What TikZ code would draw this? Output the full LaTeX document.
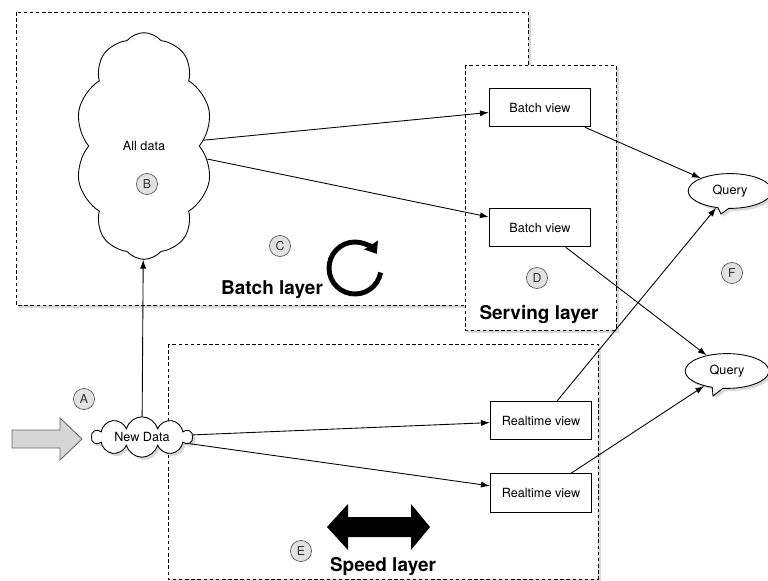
\documentclass[tikz,border=0pt]{standalone}
\usepackage{fontspec}
\setmainfont{TeX Gyre Heros}
\usetikzlibrary{arrows.meta,shapes.symbols,shapes.callouts,shadows}
\definecolor{tagFill}{HTML}{E2E2E2}
\definecolor{tagLine}{HTML}{5A5A5A}
\definecolor{inputGrey}{HTML}{D6D6D6}

\begin{document}
\begin{tikzpicture}[x=0.02cm,y=-0.02cm,
    font=\fontsize{7.2}{8.6}\selectfont,
    softshadow/.style={drop shadow={shadow xshift=1.5pt,shadow yshift=-1.5pt,opacity=0.3}},
    layer/.style={draw,dash pattern=on 2pt off 1.5pt,fill=white,line width=0.5pt,softshadow},
    layername/.style={font=\fontsize{10.8}{13}\selectfont\bfseries},
    view/.style={draw,fill=white,line width=0.5pt,minimum width=57.8pt,
                 minimum height=22pt,inner sep=0pt},
    datacloud/.style={cloud,draw,fill=white,cloud ignores aspect,
                      inner sep=0pt,line width=0.5pt},
    query/.style={ellipse callout,draw,fill=white,line width=0.5pt,minimum width=47.6pt,
                  minimum height=19.8pt,inner sep=0pt,softshadow},
    tag/.style={circle,draw=tagLine,fill=tagFill,text=black!80,minimum size=12pt,
                inner sep=0pt,font=\fontsize{7}{8}\selectfont},
    flow/.style={-{Latex[length=5pt,width=3.5pt]},line width=0.5pt}]
    \useasboundingbox (0,0) rectangle (768,581);

    % layers
    \draw[layer] (16,12) rectangle (528,305);
    \draw[layer] (465,65) rectangle (616,330);
    \draw[layer] (168,344) rectangle (598,579);
    \node[layername] (batchname) at (272,290) {Batch layer};
    \node[layername] (servingname) at (539,315) {Serving layer};
    \node[layername] (speedname) at (383,567) {Speed layer};

    % data
    \node[datacloud,cloud puffs=10,cloud puff arc=100,minimum width=78pt,minimum height=129pt]
        (alldata) at (144,146) {All data};
    \node[datacloud,softshadow,cloud puffs=10,minimum width=57pt,minimum height=23pt]
        (newdata) at (142,437) {New Data};

    % views
    \node[view] (bv1) at (540,107.5) {Batch view};
    \node[view] (bv2) at (540,227.5) {Batch view};
    \node[view] (rv1) at (541,420.5) {Realtime view};
    \node[view] (rv2) at (541,493) {Realtime view};

    % queries
    \node[query,callout absolute pointer={(721,214)}] (q1) at (730,191) {Query};
    \node[query,callout absolute pointer={(713,396)}] (q2) at (727,371) {Query};

    % tags
    \node[tag] (tagA) at (84,399) {A};
    \node[tag] (tagB) at (147,184) {B};
    \node[tag] (tagC) at (280,246) {C};
    \node[tag] (tagD) at (537,278) {D};
    \node[tag] (tagE) at (301,551) {E};
    \node[tag] (tagF) at (732,273) {F};

    % symbols
    \filldraw[draw=black!60,fill=inputGrey,line width=0.5pt]
        (12,430) -- (60,430) -- (60,418) -- (82,439) -- (60,460) -- (60,448) -- (12,448) -- cycle;
    \fill (327,527) -- (348,504) -- (348,517) -- (411,517) -- (411,504) -- (430,527)
        -- (411,550) -- (411,537) -- (348,537) -- (348,550) -- cycle;
    \draw[line width=2.8pt,-{Triangle[length=6pt,width=9pt]}]
        (355,268) ++(10:26) arc[start angle=10,end angle=327,radius=26];

    % flows
    \draw[flow] (newdata) -- (alldata);
    \draw[flow] (alldata) -- (bv1);
    \draw[flow] (alldata) -- (bv2);
    \draw[flow] (newdata) -- (rv1);
    \draw[flow] (newdata) -- (rv2);
    \draw[flow] (bv1) -- (q1);
    \draw[flow] (bv2) -- (q2);
    \draw[flow] (rv1) -- (q1);
    \draw[flow] (rv2) -- (q2);
\end{tikzpicture}
\end{document}
